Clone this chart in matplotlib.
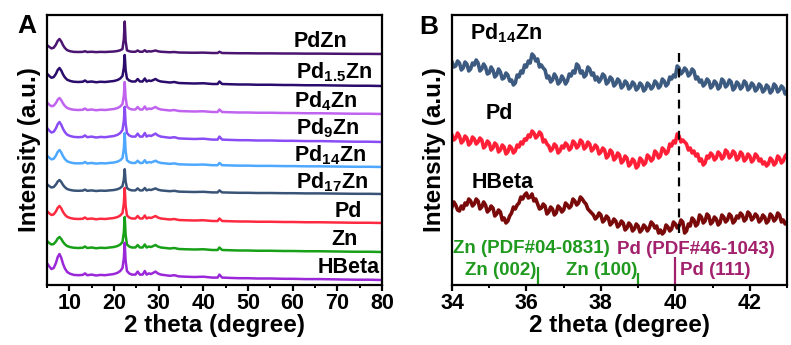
import numpy as np
import matplotlib
matplotlib.use("Agg")
import matplotlib.pyplot as plt
from matplotlib.ticker import MultipleLocator

plt.rcParams["font.family"] = ["Liberation Sans", "DejaVu Sans"]
plt.rcParams["font.weight"] = "bold"
plt.rcParams["axes.labelweight"] = "bold"
plt.rcParams["mathtext.fontset"] = "custom"
plt.rcParams["mathtext.rm"] = "Liberation Sans:bold"
plt.rcParams["mathtext.it"] = "Liberation Sans:bold"
plt.rcParams["mathtext.bf"] = "Liberation Sans:bold"
plt.rcParams["mathtext.default"] = "rm"
plt.rcParams["axes.linewidth"] = 1.6

# ---------------- panel A: full XRD patterns (stacked) ----------------
two_theta_a = [5, 5.5, 6, 6.5, 7, 7.4, 7.8, 8.2, 8.6, 9.0, 9.5, 10.2, 11, 12, 13,
               13.5, 14, 15, 16, 17, 18, 19, 20, 20.8, 21.4, 21.9, 22.2, 22.4,
               22.6, 22.9, 23.4, 24, 24.8, 25.3, 25.8, 26.4, 26.9, 27.3, 27.8,
               28.3, 28.8, 29.3, 29.8, 30.5, 31.5, 32.5, 33.5, 34.5, 36, 38, 40,
               42, 43.2, 43.6, 44.2, 46, 48, 50, 52, 55, 58, 60, 63, 66, 70, 74,
               77, 80]
# zeolite background profile (relative)
bg_shape = [1.3, 1.1, 1.0, 1.0, 1.0, 1.0, 1.0, 1.0, 1.0, 1.0, 0.95, 0.9, 0.85,
            0.8, 0.85, 1.1, 0.8, 0.9, 0.75, 0.85, 0.8, 0.9, 1.0, 1.2, 1.5, 2.0,
            2.2, 2.2, 2.0, 1.5, 1.1, 0.9, 0.9, 1.4, 0.9, 0.9, 1.5, 0.9, 1.1, 1.0,
            1.2, 1.4, 1.1, 0.9, 0.8, 0.7, 0.8, 0.6, 0.55, 0.5, 0.55, 0.4, 0.4,
            0.9, 0.4, 0.35, 0.3, 0.3, 0.25, 0.25, 0.2, 0.2, 0.15, 0.15, 0.1,
            0.05, 0.05, 0.0]
# low-angle reflection (~7.7 deg)
low_shape = [0.45, 0.35, 0.25, 0.3, 0.55, 0.85, 1.0, 0.8, 0.5, 0.28, 0.12, 0.04] + [0] * 56
# main reflection (~22.4 deg)
main_shape = [0] * 25 + [0.0, 0.35, 1.0, 0.3, 0.0] + [0] * 38

samples_a = ["PdZn", "Pd$_{1.5}$Zn", "Pd$_{4}$Zn", "Pd$_{9}$Zn", "Pd$_{14}$Zn",
             "Pd$_{17}$Zn", "Pd", "Zn", "HBeta"]
colors_a = ["#4a1470", "#2b0b6b", "#c064f0", "#8a4cf5", "#4ea8ff",
            "#3a5478", "#ff2a40", "#18a018", "#9a28d8"]
baseline_a = [231, 199, 171, 143, 118, 91, 62, 33, 5]
bg_level = [2.5, 5, 5, 6, 4.5, 4, 5, 5, 6]
low_height = [12.5, 13, 11, 14, 12.5, 10, 12, 10, 20]
main_height = [27, 20, 21, 22, 24, 16, 24, 24, 24]
label_x = [72.2, 77.8, 74.6, 75.1, 76.4, 76.9, 75.5, 74.6, 79.5]
label_y = [238, 207, 178, 151, 124, 97, 68, 40, 12]
ticks_a = [10, 20, 30, 40, 50, 60, 70, 80]

# ---------------- panel B: zoom 34-43 deg ----------------
pd14zn_b = [223, 218, 219, 224, 222, 215, 217, 223, 221, 214, 216, 222, 220, 225,
            222, 214, 216, 221, 218, 211, 212, 218, 215, 208, 210, 216, 213, 206,
            207, 212, 210, 204, 205, 200, 202, 210, 208, 214, 212, 220, 218, 224,
            222, 231, 229, 224, 226, 218, 220, 217, 215, 207, 209, 203, 205, 211,
            208, 201, 203, 209, 206, 201, 204, 211, 209, 214, 212, 221, 219, 212,
            214, 208, 210, 218, 216, 210, 212, 205, 208, 203, 206, 211, 209, 201,
            203, 208, 206, 199, 201, 206, 204, 197, 199, 204, 202, 196, 198, 203,
            201, 195, 197, 202, 200, 194, 196, 202, 200, 196, 198, 204, 202, 197,
            199, 206, 204, 199, 201, 208, 206, 210, 208, 219, 217, 211, 213, 217,
            215, 209, 211, 216, 214, 206, 208, 203, 205, 199, 201, 206, 204, 197,
            199, 204, 202, 196, 198, 206, 204, 198, 200, 205, 203, 195, 197, 203,
            201, 196, 198, 204, 202, 195, 197, 202, 200, 194, 196, 201, 199, 193,
            195, 200, 198, 192, 194, 201, 199, 193, 195, 199, 197, 191, 193]
pd_b = [150, 145, 147, 152, 149, 142, 144, 149, 147, 140, 142, 148, 146, 141, 143,
        147, 145, 137, 139, 144, 142, 135, 137, 142, 140, 133, 135, 140, 138, 131,
        133, 139, 137, 132, 134, 140, 138, 143, 141, 146, 145, 150, 148, 154, 152,
        147, 149, 153, 151, 143, 145, 141, 139, 134, 136, 141, 139, 132, 134, 139,
        137, 142, 140, 135, 137, 144, 142, 137, 139, 145, 143, 136, 138, 143, 141,
        134, 136, 140, 138, 131, 133, 137, 135, 127, 129, 135, 133, 125, 127, 132,
        130, 122, 124, 129, 127, 119, 121, 126, 124, 117, 119, 127, 125, 120, 122,
        130, 128, 124, 126, 134, 132, 127, 129, 137, 135, 131, 133, 141, 139, 144,
        142, 151, 149, 143, 145, 143, 141, 135, 137, 132, 134, 129, 131, 124, 126,
        120, 122, 129, 127, 132, 130, 125, 127, 133, 131, 126, 128, 135, 133, 127,
        129, 134, 132, 125, 127, 133, 131, 124, 126, 131, 129, 123, 125, 131, 129,
        124, 126, 121, 123, 119, 121, 127, 125, 120, 122, 129, 127, 122, 124, 129,
        131]
hbeta_b = [78, 83, 80, 75, 74, 79, 76, 82, 80, 86, 84, 79, 81, 86, 84, 76, 78, 83,
           80, 73, 75, 79, 77, 69, 71, 75, 73, 65, 67, 62, 64, 69, 72, 78, 76, 80,
           82, 88, 86, 90, 92, 87, 88, 91, 84, 86, 81, 76, 77, 81, 79, 71, 73, 78,
           76, 70, 72, 79, 77, 73, 75, 82, 80, 77, 79, 86, 84, 80, 82, 88, 86, 83,
           81, 76, 74, 72, 70, 66, 68, 72, 70, 63, 65, 69, 67, 60, 62, 66, 64, 58,
           60, 64, 62, 55, 57, 62, 60, 54, 56, 61, 59, 53, 55, 60, 58, 54, 57, 63,
           61, 57, 59, 52, 55, 51, 53, 60, 58, 54, 56, 63, 61, 57, 59, 65, 63, 52,
           54, 61, 59, 67, 65, 59, 61, 70, 68, 62, 64, 71, 69, 61, 63, 68, 66, 60,
           62, 70, 68, 63, 65, 71, 69, 62, 64, 69, 67, 72, 70, 64, 66, 73, 71, 65,
           67, 71, 69, 63, 65, 70, 68, 62, 64, 71, 69, 64, 66, 72, 70, 63, 65, 61,
           63]
colors_b = ["#3d5a80", "#ff2038", "#7a0a0a"]
labels_b = ["Pd$_{14}$Zn", "Pd", "HBeta"]
label_pos_b = [(34.48, 246), (34.89, 166), (34.54, 97)]
ticks_b = [34, 36, 38, 40, 42]

zn_ref_pos = [36.3, 39.0]
zn_ref_h = [18, 12]
zn_ref_labels = ["Zn (002)", "Zn (100)"]
pd_ref_pos = [40.0]
pd_ref_h = [28]
pd_ref_labels = ["Pd (111)"]
dash_pos = 40.1
ZN_GREEN = "#1f9a1f"
PD_PURPLE = "#a3216c"

fig = plt.figure(figsize=(7.91, 3.45), dpi=100)
axA = fig.add_axes([47 / 791, 60 / 345, 335 / 791, 270 / 345])
axB = fig.add_axes([452 / 791, 60 / 345, 335 / 791, 270 / 345])

x_a = np.array(two_theta_a)
for name, col, base, bg, lo, mn, lx, ly in zip(samples_a, colors_a, baseline_a, bg_level,
                                              low_height, main_height, label_x, label_y):
    y = base + bg * np.array(bg_shape) + lo * np.array(low_shape) + mn * np.array(main_shape)
    axA.plot(x_a, y, color=col, lw=1.8)
    axA.text(lx, ly, name, ha="right", va="baseline", fontsize=15.5)

axA.set_xlim(5, 80)
axA.set_ylim(0, 270)
axA.set_xticks(ticks_a, [str(t) for t in ticks_a], fontweight="bold")
axA.xaxis.set_minor_locator(MultipleLocator(5))
axA.set_yticks([])

for yb, col, lab, (lx, ly) in zip([pd14zn_b, pd_b, hbeta_b], colors_b, labels_b, label_pos_b):
    axB.plot(np.linspace(34, 43, len(yb)), yb, color=col, lw=2.6)
    axB.text(lx, ly, lab, ha="left", va="baseline", fontsize=15.5)

axB.vlines(dash_pos, 52, 238, colors="k", linestyles=(0, (4, 3)), lw=1.6)
axB.vlines(zn_ref_pos, 0, zn_ref_h, colors=ZN_GREEN, lw=1.6)
axB.vlines(pd_ref_pos, 0, pd_ref_h, colors=PD_PURPLE, lw=1.6)
for p, lab in zip(zn_ref_pos, zn_ref_labels):
    axB.text(p - 0.02, 10, lab, ha="right", va="baseline", color=ZN_GREEN, fontsize=13.5)
for p, lab in zip(pd_ref_pos, pd_ref_labels):
    axB.text(p + 0.12, 10, lab, ha="left", va="baseline", color=PD_PURPLE, fontsize=13.5)
axB.text(34.03, 32, "Zn (PDF#04-0831)", ha="left", va="baseline", color=ZN_GREEN, fontsize=13.5)
axB.text(38.44, 31, "Pd (PDF#46-1043)", ha="left", va="baseline", color=PD_PURPLE, fontsize=13.5)

axB.set_xlim(34, 43)
axB.set_ylim(0, 270)
axB.set_xticks(ticks_b, [str(t) for t in ticks_b], fontweight="bold")
axB.xaxis.set_minor_locator(MultipleLocator(1))
axB.set_yticks([])

for ax in (axA, axB):
    ax.tick_params(axis="x", which="major", direction="out", length=4, width=1.6,
                   labelsize=15.5, pad=2)
    ax.tick_params(axis="x", which="minor", direction="out", length=2.5, width=1.4)
    ax.set_xlabel("2 theta (degree)", fontsize=17.5, fontweight="bold", labelpad=0)
    ax.set_ylabel("Intensity (a.u.)", fontsize=17.5, fontweight="bold", labelpad=4)

fig.text(27 / 791, 1 - 26 / 345, "A", ha="center", va="center", fontsize=19, fontweight="bold")
fig.text(429 / 791, 1 - 27 / 345, "B", ha="center", va="center", fontsize=19, fontweight="bold")

fig.savefig("out.png", dpi=100)
